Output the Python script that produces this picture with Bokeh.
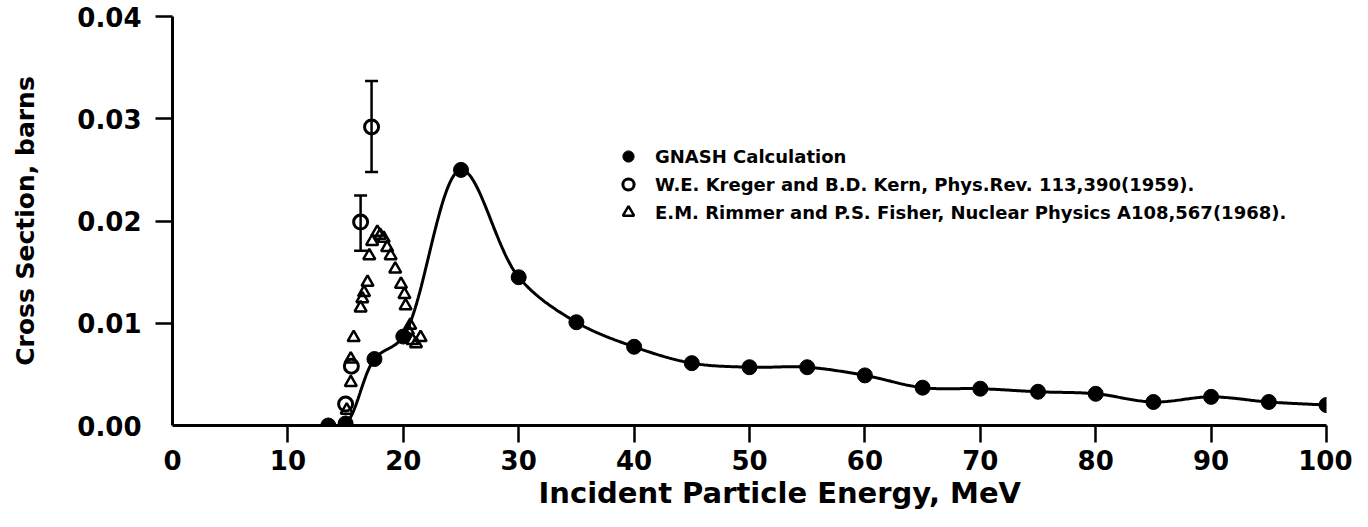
import numpy as np
from bokeh.plotting import figure
from bokeh.models import (Range1d, FixedTicker, PrintfTickFormatter, Legend, LegendItem,
                          ColumnDataSource, Whisker, TeeHead, Title)
from bokeh.embed import file_html
from bokeh.resources import INLINE

# ---------------- data ----------------
gnash_e = [13.5, 15, 17.5, 20, 25, 30, 35, 40, 45, 50, 55, 60, 65, 70, 75, 80, 85, 90, 95, 100]
gnash_xs = [0.0, 0.0002, 0.0065, 0.0087, 0.0250, 0.0145, 0.0101, 0.0077, 0.0061, 0.0057,
            0.0057, 0.0049, 0.0037, 0.0036, 0.0033, 0.0031, 0.0023, 0.0028, 0.0023, 0.0020]

kreger_e = [15.0, 15.5, 16.3, 17.25]
kreger_xs = [0.0021, 0.0058, 0.0199, 0.0292]
kreger_err_e = [16.3, 17.25]
kreger_err_lo = [0.0171, 0.0248]
kreger_err_hi = [0.0225, 0.0337]

rimmer_e = [15.1, 15.45, 15.45, 15.7, 16.3, 16.45, 16.6, 16.9, 17.05, 17.3, 17.75, 18.0,
            18.3, 18.6, 18.9, 19.3, 19.8, 20.1, 20.2, 20.4, 20.6, 20.8, 21.1, 21.5]
rimmer_xs = [0.0015, 0.0042, 0.0065, 0.0086, 0.0115, 0.0124, 0.0130, 0.0140, 0.0166, 0.0180,
             0.0189, 0.0186, 0.0183, 0.0174, 0.0166, 0.0153, 0.0138, 0.0128, 0.0117, 0.0093,
             0.0098, 0.0083, 0.0080, 0.0086]

x_ticks = [0, 10, 20, 30, 40, 50, 60, 70, 80, 90, 100]
y_ticks = [0.0, 0.01, 0.02, 0.03, 0.04]

x_title = "Incident Particle Energy, MeV"
y_title = "Cross Section, barns"
legend_labels = ["GNASH Calculation",
                 "W.E. Kreger and B.D. Kern, Phys.Rev. 113,390(1959).",
                 "E.M. Rimmer and P.S. Fisher, Nuclear Physics A108,567(1968)."]

FONT = "DejaVu Sans"

# ---------------- smooth curve through GNASH points (centripetal Catmull-Rom) -------------
def smooth_curve(xs, ys, sx, sy, n=40, alpha=0.5):
    P = np.column_stack([np.asarray(xs, float) * sx, np.asarray(ys, float) * sy])
    P = np.vstack([2 * P[0] - P[1], P, 2 * P[-1] - P[-2]])
    out = []
    for i in range(1, len(P) - 2):
        p0, p1, p2, p3 = P[i - 1], P[i], P[i + 1], P[i + 2]
        def tj(ti, a, b):
            d = np.hypot(*(b - a)) ** alpha
            return ti + max(d, 1e-6)
        t0 = 0.0
        t1 = tj(t0, p0, p1)
        t2 = tj(t1, p1, p2)
        t3 = tj(t2, p2, p3)
        t = np.linspace(t1, t2, n)[:, None]
        A1 = (t1 - t) / (t1 - t0) * p0 + (t - t0) / (t1 - t0) * p1
        A2 = (t2 - t) / (t2 - t1) * p1 + (t - t1) / (t2 - t1) * p2
        A3 = (t3 - t) / (t3 - t2) * p2 + (t - t2) / (t3 - t2) * p3
        B1 = (t2 - t) / (t2 - t0) * A1 + (t - t0) / (t2 - t0) * A2
        B2 = (t3 - t) / (t3 - t1) * A2 + (t - t1) / (t3 - t1) * A3
        C = (t2 - t) / (t2 - t1) * B1 + (t - t1) / (t2 - t1) * B2
        out.append(C if i == 1 else C[1:])
    C = np.vstack(out)
    return C[:, 0] / sx, C[:, 1] / sy

cx, cy = smooth_curve(gnash_e, gnash_xs, 11.54, 10225)
cy = np.clip(cy, 0, None)

# ---------------- figure ----------------
p = figure(frame_width=1154, frame_height=409, output_backend="svg", toolbar_location=None,
           x_range=Range1d(0, 100), y_range=Range1d(0, 0.04),
           min_border_left=172, min_border_right=26, min_border_top=16, min_border_bottom=0)
p.outline_line_color = None
p.grid.visible = False
p.background_fill_color = "white"
p.border_fill_color = "white"

rim = p.scatter(rimmer_e, rimmer_xs, marker="triangle", size=12, line_color="black",
                line_width=2.5, fill_color=None)

wsrc = ColumnDataSource(dict(x=kreger_err_e, lo=kreger_err_lo, hi=kreger_err_hi))
wh = Whisker(base="x", lower="lo", upper="hi", source=wsrc, dimension="height",
             line_width=2.5, line_color="black",
             upper_head=TeeHead(size=13, line_width=2.5, line_color="black"),
             lower_head=TeeHead(size=13, line_width=2.5, line_color="black"))
p.add_layout(wh)

kre = p.scatter(kreger_e, kreger_xs, marker="circle", size=14, line_color="black",
                line_width=3, fill_color=None)

p.line(cx, cy, line_color="black", line_width=3)
gna = p.scatter(gnash_e, gnash_xs, marker="circle", size=15, fill_color="black",
                line_color="black")

# axes: labels at every tick, but (as in the original) no tick mark at the origin,
# so the marks are drawn as "minor" ticks on the non-zero positions.
TICK = 17
for ax in (p.xaxis[0], p.yaxis[0]):
    ax.axis_line_width = 3
    ax.axis_line_color = "black"
    ax.major_tick_in = 0
    ax.major_tick_out = 0
    ax.major_tick_line_color = None
    ax.minor_tick_in = 0
    ax.minor_tick_out = TICK
    ax.minor_tick_line_width = 2.5
    ax.minor_tick_line_color = "black"
    ax.major_label_text_font = FONT
    ax.major_label_text_font_style = "bold"
    ax.major_label_text_font_size = "26px"
    ax.major_label_text_color = "black"
    ax.axis_label_text_font = FONT
    ax.axis_label_text_font_style = "bold"
    ax.axis_label_text_font_size = "25px"
    ax.axis_label_text_color = "black"

p.xaxis.ticker = FixedTicker(ticks=x_ticks, minor_ticks=[t for t in x_ticks if t != 0])
p.yaxis.ticker = FixedTicker(ticks=y_ticks, minor_ticks=[t for t in y_ticks if t != 0])
p.yaxis.formatter = PrintfTickFormatter(format="%.2f")
p.xaxis.major_label_standoff = 7
p.yaxis.major_label_standoff = 14
p.yaxis.axis_label = y_title
p.yaxis.axis_label_standoff = 34

# x-axis title, placed slightly right of centre as in the original
p.add_layout(Title(text=x_title, align="left", offset=366, standoff=2,
                   text_font=FONT, text_font_style="bold", text_font_size="29px",
                   text_color="black"), "below")

legend = Legend(items=[LegendItem(label=legend_labels[0], renderers=[gna]),
                       LegendItem(label=legend_labels[1], renderers=[kre]),
                       LegendItem(label=legend_labels[2], renderers=[rim])],
                location=(442, 199), padding=0, margin=0, border_line_color=None,
                background_fill_alpha=0, glyph_width=28, glyph_height=28, spacing=-8,
                label_height=20, label_standoff=13, label_text_font=FONT,
                label_text_color="black",
                label_text_font_style="bold", label_text_font_size="18px")
p.add_layout(legend)

open("out.html", "w").write(file_html(p, INLINE))
